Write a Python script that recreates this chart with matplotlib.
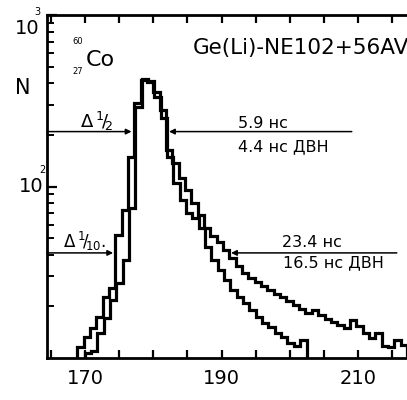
import numpy as np
import matplotlib
matplotlib.use("Agg")
import matplotlib.pyplot as plt
from matplotlib.ticker import FixedLocator, NullFormatter

plt.rcParams["font.family"] = ["DejaVu Sans"]
plt.rcParams["mathtext.fontset"] = "dejavusans"

# channel histograms (counts per bin)
bin_width = 0.93
outer_start = 168.83
outer_counts = [11.6, 13.3, 15.0, 17.4, 22.8, 25.6, 52, 73, 149, 307, 418, 405,
                357, 279, 163, 137, 112, 95, 80, 68, 57, 51.5, 47.5, 42.7, 38.3,
                34.4, 31.3, 29.3, 27.7, 26.3, 24.9, 23.6, 22.7, 21.5, 20.4, 19.3,
                18.3, 19.1, 17.8, 16.9, 16.2, 15.6, 15.0, 16.7, 15.4, 14.0, 13.1,
                14.0, 11.7, 11.6, 12.7, 11.9]
inner_start = 169.91
inner_counts = [10.7, 11.0, 14.0, 17.1, 21.8, 27.4, 37.3, 75, 290, 425, 415,
                333, 251, 149, 105, 83.4, 70, 65.5, 57.3, 44.4, 37.3, 32.6, 28.5,
                24.9, 22.7, 20.9, 19.1, 17.4, 16.0, 15.2, 14.0, 13.3, 12.2, 11.7,
                12.7]

xlabels = [170, 190, 210]
xminor = [165, 170, 175, 180, 185, 190, 195, 200, 205, 210, 215]

half_level = 209
tenth_level = 41

fig = plt.figure(figsize=(4.07, 4.0), dpi=100)
ax = fig.add_axes([47 / 407, 1 - 358 / 400, 1 - 47 / 407, (358 - 15) / 400])

outer_edges = outer_start + bin_width * np.arange(len(outer_counts) + 1)
inner_edges = inner_start + bin_width * np.arange(len(inner_counts) + 1)
ax.stairs(outer_counts, outer_edges, baseline=1, color="black", lw=2.3)
ax.stairs(inner_counts, inner_edges, baseline=1, color="black", lw=2.3)

ax.set_yscale("log")
ax.set_ylim(10, 1000)
ax.set_xlim(164.4, 217.2)

for s in ["left", "bottom", "top"]:
    ax.spines[s].set_linewidth(2)
ax.spines["right"].set_visible(False)

ax.xaxis.set_major_locator(FixedLocator(xlabels))
ax.xaxis.set_minor_locator(FixedLocator(xminor))
ax.xaxis.set_minor_formatter(NullFormatter())
ax.tick_params(axis="x", which="both", direction="in", top=True, length=6,
               width=1.6, labelsize=14, pad=8)
ax.set_yticks([100, 1000])
ax.set_yticklabels([])
ax.tick_params(axis="y", which="major", direction="in", length=7, width=1.6)
ax.tick_params(axis="y", which="minor", direction="in", length=5, width=1.4)
ax.yaxis.set_minor_formatter(NullFormatter())

# decade labels drawn by hand, the small exponent tucked onto the "0"
fig.text(27 / 407, 1 - 28 / 400, "10", fontsize=14, ha="center", va="center")
fig.text(37 / 407, 1 - 12 / 400, "3", fontsize=7, ha="center", va="center")
fig.text(31 / 407, 1 - 186 / 400, "10", fontsize=14, ha="center", va="center")
fig.text(42 / 407, 1 - 170 / 400, "2", fontsize=7, ha="center", va="center")

arrow = dict(arrowstyle="-|>", color="black", lw=1.1, mutation_scale=8,
             shrinkA=0, shrinkB=0)
ax.annotate("", xy=(176.8, half_level), xytext=(164.4, half_level), arrowprops=arrow)
ax.annotate("", xy=(182.3, half_level), xytext=(209.1, half_level), arrowprops=arrow)
ax.annotate("", xy=(174.1, tenth_level), xytext=(164.4, tenth_level), arrowprops=arrow)
ax.annotate("", xy=(191.4, tenth_level), xytext=(215.7, tenth_level), arrowprops=arrow)

ax.text(171.6, 241, r"$\Delta\,{}^{1}\!/\!{}_{2}$", fontsize=13, ha="center", va="center")
ax.text(166.7, 48, r"$\Delta\,{}^{1}\!/\!{}_{10}.$", fontsize=12, ha="left", va="center")
ax.text(192.4, 232, "5.9 нс", fontsize=11.5, ha="left", va="center")
ax.text(192.4, 170, "4.4 нс ДВН", fontsize=11.5, ha="left", va="center")
ax.text(198.8, 47, "23.4 нс", fontsize=11.5, ha="left", va="center")
ax.text(199.0, 35.8, "16.5 нс ДВН", fontsize=11.5, ha="left", va="center")

fig.text(23 / 407, 1 - 88 / 400, "N", fontsize=15, ha="center", va="center")
fig.text(100 / 407, 1 - 60 / 400, "Co", fontsize=16, ha="center", va="center")
fig.text(78 / 407, 1 - 42 / 400, "60", fontsize=6, ha="center", va="center")
fig.text(78 / 407, 1 - 72 / 400, "27", fontsize=6, ha="center", va="center")
fig.text(193 / 407, 1 - 48 / 400, "Ge(Li)-NE102+56AVP", fontsize=15.5,
         ha="left", va="center")

fig.savefig("out.png", dpi=100)
